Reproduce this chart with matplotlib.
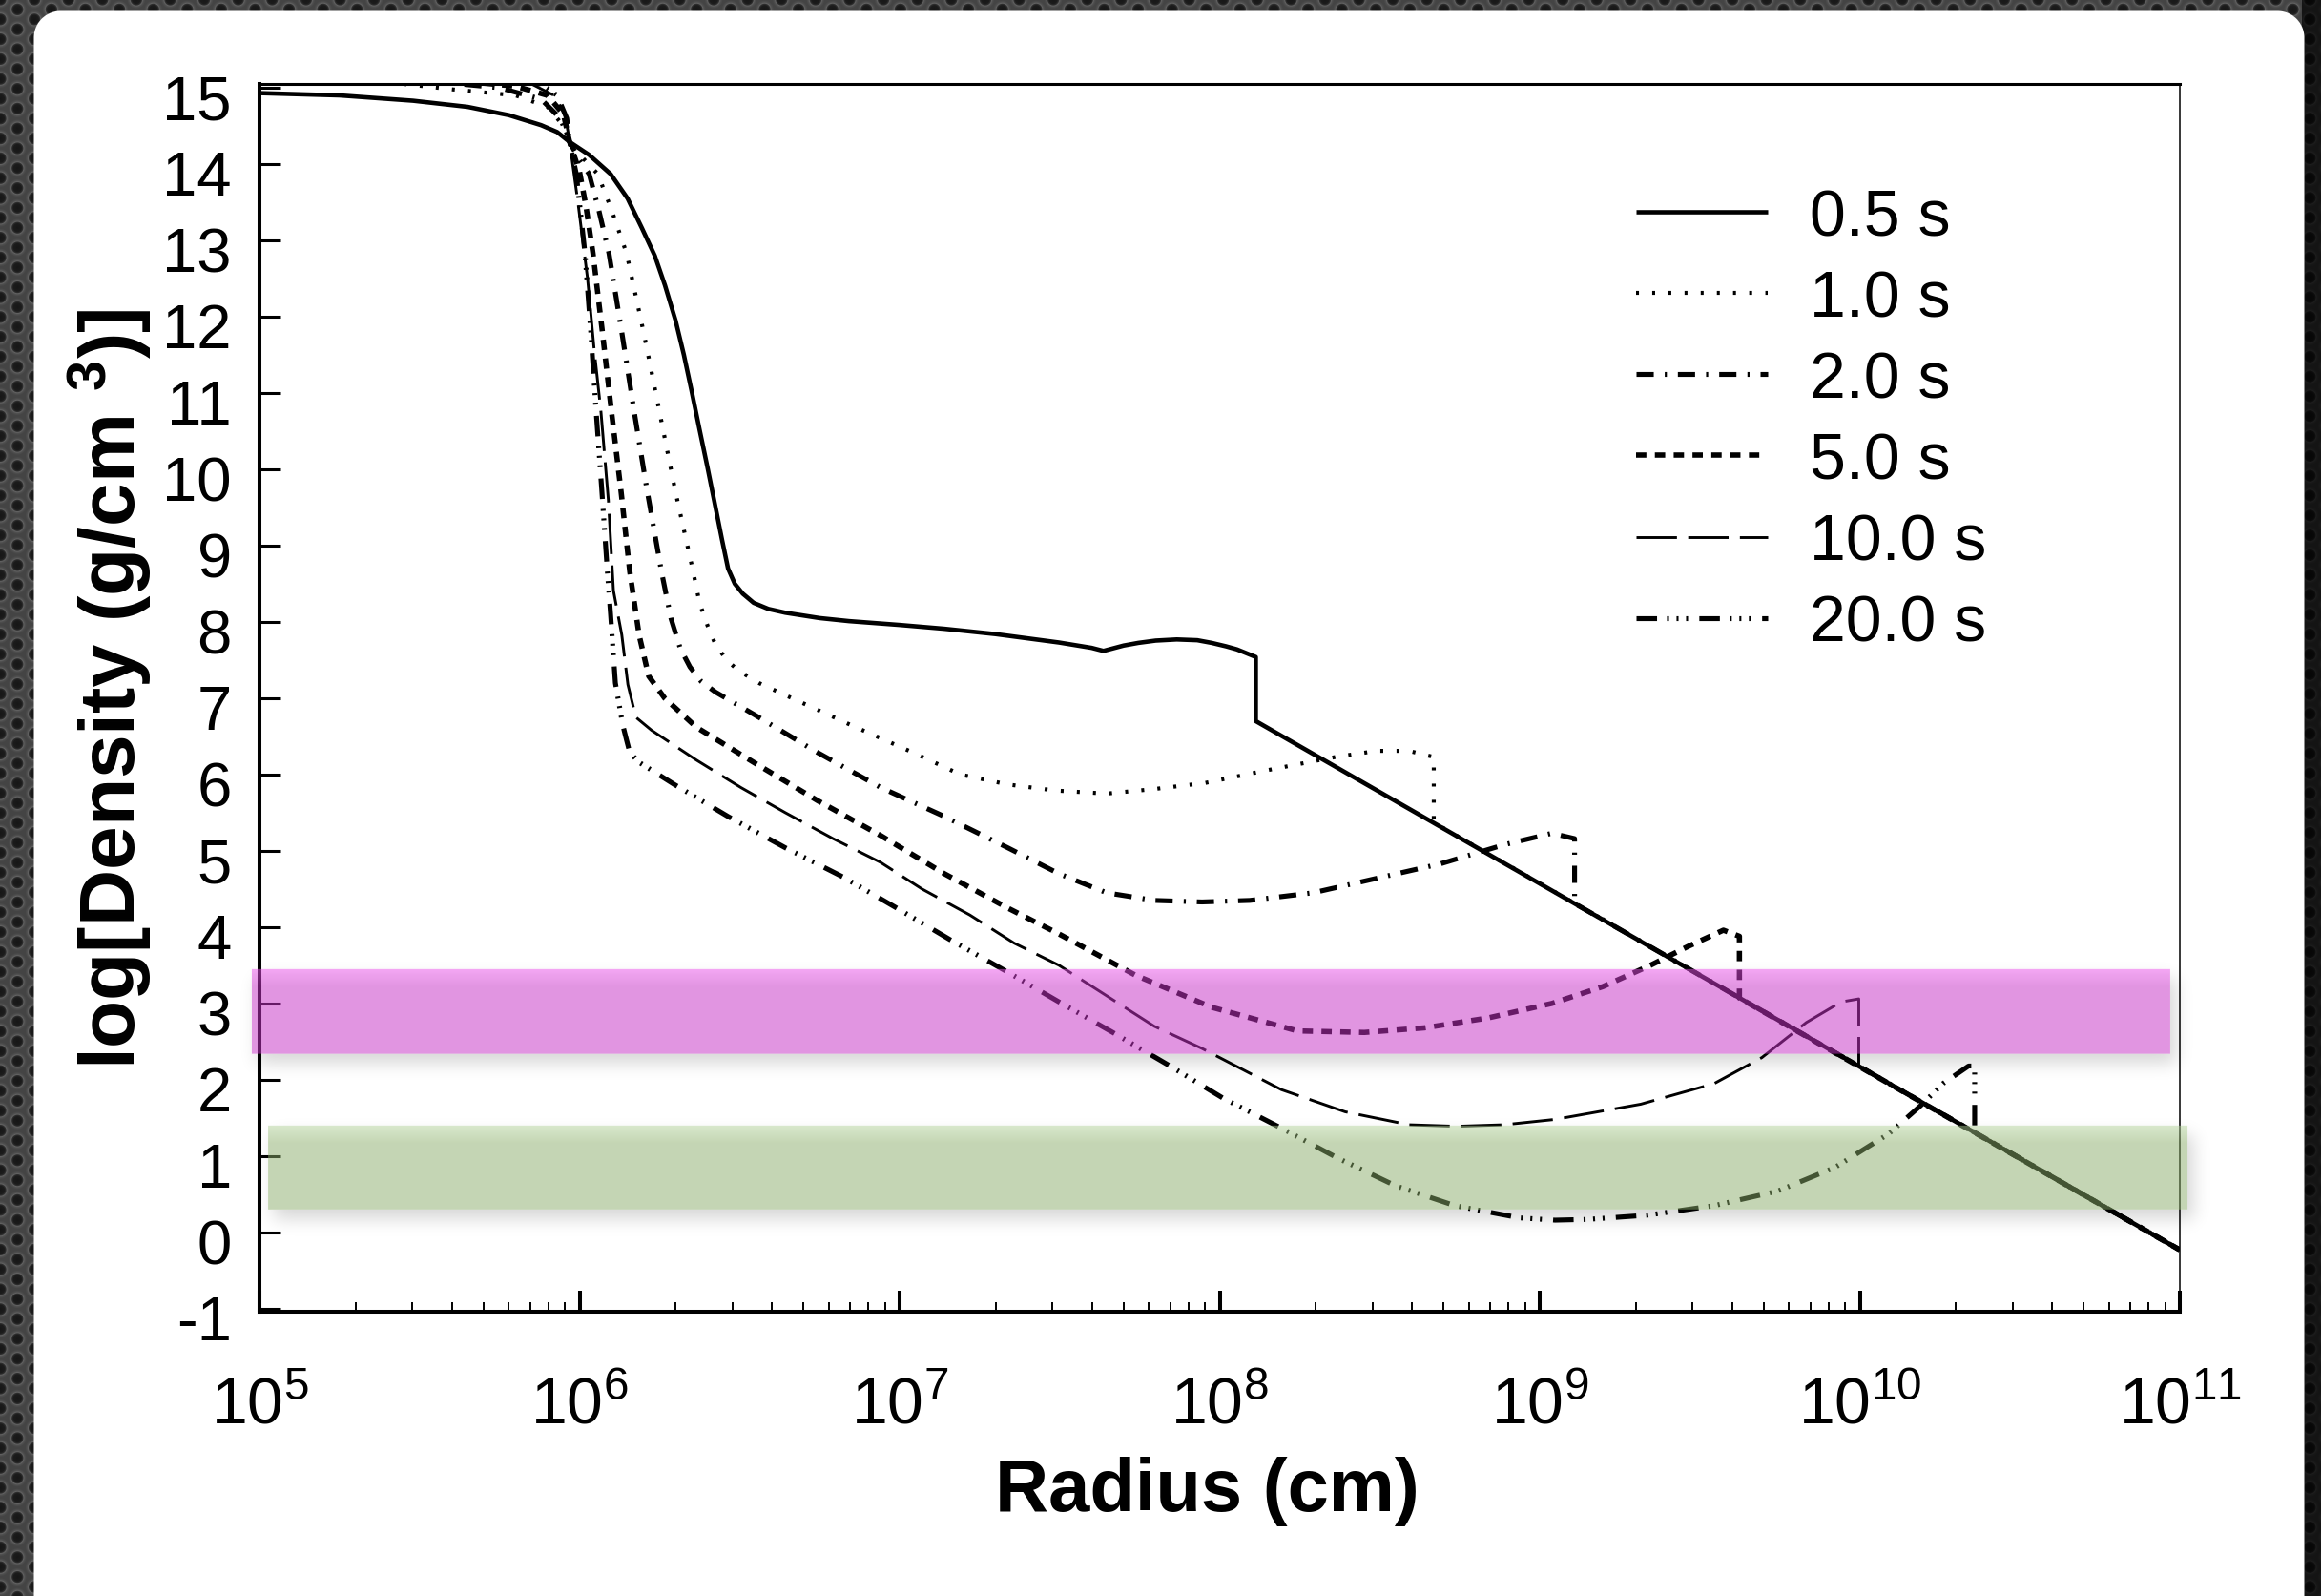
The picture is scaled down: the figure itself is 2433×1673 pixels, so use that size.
import math
import numpy as np
import matplotlib
matplotlib.use("Agg")
import matplotlib.pyplot as plt
from matplotlib.transforms import ScaledTranslation
from matplotlib.ticker import FixedLocator, FuncFormatter, NullFormatter

plt.rcParams['font.family'] = ['Liberation Sans', 'DejaVu Sans']
plt.rcParams['mathtext.fontset'] = 'custom'
plt.rcParams['mathtext.rm'] = 'Liberation Sans'
plt.rcParams['mathtext.it'] = 'Liberation Sans:italic'
plt.rcParams['mathtext.bf'] = 'Liberation Sans:bold'
plt.rcParams['lines.scale_dashes'] = False

# ---------------------------------------------------------------- data
# log10 radius [cm] and log10 density [g/cm^3] for each snapshot
labels = ["0.5 s", "1.0 s", "2.0 s", "5.0 s", "10.0 s", "20.0 s"]

logr_t05 = [5.00, 5.25, 5.48, 5.65, 5.78, 5.88, 5.93, 5.969, 6.03, 6.097, 6.15, 6.195,
            6.235, 6.267, 6.30, 6.326, 6.35, 6.374, 6.40, 6.425, 6.445, 6.464, 6.485,
            6.51, 6.544, 6.59, 6.643, 6.75, 6.842, 7.00, 7.14, 7.30, 7.498, 7.60, 7.637,
            7.70, 7.746, 7.80, 7.866, 7.93, 7.975, 8.02, 8.054, 8.113, 8.113, 11.0]
logd_t05 = [14.93, 14.90, 14.83, 14.75, 14.64, 14.51, 14.42, 14.29, 14.12, 13.87, 13.55, 13.16,
            12.80, 12.41, 11.95, 11.50, 11.03, 10.54, 10.02, 9.50, 9.08, 8.70, 8.50,
            8.37, 8.25, 8.17, 8.12, 8.05, 8.01, 7.96, 7.91, 7.84, 7.73, 7.66, 7.62,
            7.69, 7.725, 7.755, 7.77, 7.76, 7.725, 7.68, 7.64, 7.54, 6.70, -0.23]

logr_t1 = [5.00, 5.45, 5.60, 5.80, 5.90, 5.95, 5.969, 6.01, 6.057, 6.10, 6.147, 6.20, 6.25,
           6.30, 6.355, 6.375, 6.40, 6.425, 6.46, 6.494, 6.56, 6.643, 6.842, 7.041, 7.19,
           7.338, 7.487, 7.647, 7.796, 7.955, 8.153, 8.362, 8.491, 8.591, 8.669, 8.669, 11.0]
logd_t1 = [15.30, 15.05, 14.98, 14.90, 14.75, 14.50, 14.29, 14.08, 13.87, 13.40, 12.83, 11.80, 10.75,
           9.70, 8.66, 8.25, 7.95, 7.70, 7.50, 7.37, 7.20, 7.04, 6.66, 6.29, 6.00,
           5.87, 5.79, 5.75, 5.81, 5.89, 6.06, 6.23, 6.31, 6.31, 6.23, 5.37, -0.23]

logr_t2 = [5.00, 5.55, 5.75, 5.88, 5.94, 5.969, 6.00, 6.03, 6.06, 6.092, 6.13, 6.171, 6.21,
           6.256, 6.286, 6.315, 6.345, 6.38, 6.425, 6.544, 6.743, 6.941, 7.14, 7.338, 7.498,
           7.647, 7.796, 7.945, 8.094, 8.292, 8.491, 8.69, 8.889, 9.038, 9.109, 9.109, 11.0]
logd_t2 = [15.40, 15.08, 15.00, 14.85, 14.60, 14.29, 14.05, 13.87, 13.40, 12.83, 11.85, 10.75, 9.75,
           8.66, 8.04, 7.65, 7.41, 7.22, 7.08, 6.79, 6.29, 5.83, 5.45, 5.04, 4.70,
           4.45, 4.35, 4.33, 4.35, 4.45, 4.64, 4.83, 5.08, 5.23, 5.16, 4.31, -0.23]

logr_t5 = [5.00, 5.60, 5.80, 5.90, 5.95, 5.969, 6.00, 6.02, 6.042, 6.07, 6.10, 6.13, 6.157,
           6.186, 6.216, 6.266, 6.365, 6.544, 6.743, 6.941, 7.14, 7.338, 7.498, 7.737, 7.975,
           8.243, 8.452, 8.64, 8.839, 9.038, 9.197, 9.346, 9.465, 9.574, 9.624, 9.624, 11.0]
logd_t5 = [15.45, 15.10, 15.02, 14.90, 14.65, 14.29, 13.90, 13.45, 12.83, 11.85, 10.75, 9.70, 8.66,
           7.83, 7.29, 7.00, 6.62, 6.16, 5.66, 5.20, 4.70, 4.25, 3.91, 3.37, 2.95,
           2.64, 2.62, 2.68, 2.81, 3.00, 3.22, 3.50, 3.75, 3.96, 3.88, 3.07, -0.23]

logr_t10 = [5.00, 5.65, 5.85, 5.92, 5.955, 5.969, 5.995, 6.025, 6.045, 6.067, 6.09, 6.106, 6.132,
            6.151, 6.176, 6.225, 6.365, 6.504, 6.643, 6.792, 6.94, 7.07, 7.219, 7.358, 7.498,
            7.796, 7.945, 8.193, 8.392, 8.591, 8.74, 8.889, 9.048, 9.316, 9.545, 9.694, 9.833,
            9.942, 9.997, 9.997, 11.0]
logd_t10 = [15.50, 15.12, 15.05, 14.90, 14.65, 14.29, 13.50, 12.50, 11.60, 10.75, 9.60, 8.41, 7.83,
            7.18, 6.75, 6.58, 6.19, 5.83, 5.50, 5.16, 4.85, 4.50, 4.16, 3.79, 3.50,
            2.70, 2.41, 1.87, 1.58, 1.41, 1.39, 1.41, 1.48, 1.68, 1.95, 2.29, 2.75,
            3.02, 3.06, 2.18, -0.23]

logr_t20 = [5.00, 5.70, 5.88, 5.93, 5.96, 5.969, 5.99, 6.017, 6.035, 6.052, 6.07, 6.087, 6.097,
            6.112, 6.135, 6.147, 6.157, 6.186, 6.296, 6.464, 6.643, 6.822, 6.991, 7.16, 7.338,
            7.498, 7.666, 7.845, 8.01, 8.20, 8.368, 8.55, 8.735, 8.937, 9.048, 9.15, 9.336,
            9.545, 9.743, 9.922, 10.09, 10.19, 10.26, 10.34, 10.359, 10.359, 11.0]
logd_t20 = [15.55, 15.15, 15.05, 14.90, 14.60, 14.29, 13.87, 12.83, 11.80, 10.75, 9.70, 8.66, 8.10,
            7.20, 6.65, 6.45, 6.29, 6.16, 5.87, 5.45, 5.04, 4.66, 4.25, 3.83, 3.41,
            3.02, 2.62, 2.18, 1.76, 1.35, 0.975, 0.61, 0.35, 0.19, 0.16, 0.17, 0.225,
            0.35, 0.54, 0.85, 1.29, 1.66, 1.95, 2.18, 2.18, 1.31, -0.23]

series_logr = [logr_t05, logr_t1, logr_t2, logr_t5, logr_t10, logr_t20]
series_logd = [logd_t05, logd_t1, logd_t2, logd_t5, logd_t10, logd_t20]

# highlighted density ranges (log density) and their horizontal reach (log radius)
pink_band_logd = (2.34, 3.45)
pink_band_logr = (4.976, 10.97)
green_band_logd = (0.30, 1.40)
green_band_logr = (5.027, 11.024)

y_ticks = list(range(-1, 16))

# ---------------------------------------------------------------- styles
line_styles = [
    dict(linestyle='-', lw=3.3),
    dict(linestyle=(0, (2.2, 10.0)), lw=3.0),
    dict(linestyle=(0, (13.0, 8.3, 1.6, 8.3)), lw=3.7),
    dict(linestyle=(0, (7.8, 6.4)), lw=4.0),
    dict(linestyle=(0, (30.5, 8.5)), lw=2.1),
    dict(linestyle=(0, (15.5, 7.5, 1.5, 5.7, 1.5, 5.7, 1.5, 8.5)), lw=3.7),
]

W, H = 2433, 1674
DPI = 100
fig = plt.figure(figsize=(W / DPI, H / DPI), dpi=DPI)
fig.patch.set_facecolor('white')

# ---------------------------------------------------------------- perforated backdrop + white panel
yy, xx = np.mgrid[0:H, 0:W].astype(np.float32)
pitch_x, pitch_y = 17.8, 20.8
col = np.round(xx / pitch_x)
dist = np.full((H, W), 1e9, dtype=np.float32)
for dc in (-1, 0, 1):
    cc = col + dc
    off = (cc % 2) * pitch_y / 2
    cy = np.round((yy - off) / pitch_y) * pitch_y + off
    cx = cc * pitch_x
    dist = np.minimum(dist, np.hypot(xx - cx, yy - cy))
shade = np.interp(dist, [0, 4.2, 5.6, 6.6, 7.8, 9.5], [0.09, 0.11, 0.18, 0.38, 0.31, 0.27])
shade = np.where(xx > 2412, shade * 0.3, shade)

# rounded panel
px0, px1, py0, py1, rad = 35.0, 2415.0, 12.0, H + 60.0, 28.0
cxp, cyp = (px0 + px1) / 2, (py0 + py1) / 2
hw, hh = (px1 - px0) / 2, (py1 - py0) / 2
qx = np.maximum(np.abs(xx - cxp) - (hw - rad), 0)
qy = np.maximum(np.abs(yy - cyp) - (hh - rad), 0)
inside = np.clip(rad - np.hypot(qx, qy) + 0.5, 0, 1)
bg = shade * (1 - inside) + inside
bg_rgb = np.dstack([bg, bg, bg]).astype(np.float32)
fig.figimage(bg_rgb, xo=0, yo=0, origin='upper', zorder=-10)

# ---------------------------------------------------------------- axes
ax_left, ax_right, ax_top, ax_bottom = 272, 2285, 89, 1376
ax = fig.add_axes([ax_left / W, 1 - ax_bottom / H, (ax_right - ax_left) / W,
                   (ax_bottom - ax_top) / H])
ax.set_facecolor('none')
ax.set_xscale('log')
ax.set_xlim(1e5, 1e11)
ax.set_ylim(-1.04, 15.05)

lines = []
for lr, ld, lab, st in zip(series_logr, series_logd, labels, line_styles):
    ln, = ax.plot(10 ** np.asarray(lr), ld, color='black', label=lab,
                  dash_capstyle='butt', solid_capstyle='butt', **st)
    lines.append(ln)
lines[0].set_zorder(3)

ax.xaxis.set_major_locator(FixedLocator([10.0 ** k for k in range(5, 12)]))
ax.xaxis.set_minor_locator(FixedLocator([m * 10.0 ** k for k in range(5, 11) for m in range(2, 10)]))
ax.xaxis.set_major_formatter(FuncFormatter(lambda v, p: r'$10^{%d}$' % int(round(np.log10(v)))))
ax.xaxis.set_minor_formatter(NullFormatter())
ax.set_yticks(y_ticks)
ax.set_yticklabels([str(t) for t in y_ticks])

ax.tick_params(axis='both', which='both', direction='in', top=False, right=False)
ax.tick_params(axis='y', which='major', length=15.8, width=2.2, labelsize=47, pad=21)
ax.tick_params(axis='x', which='major', length=15.8, width=2.9, labelsize=49, pad=48)
ax.tick_params(axis='x', which='minor', length=7.2, width=1.4)

for side, w in (('left', 2.9), ('bottom', 2.9), ('top', 2.2), ('right', 1.1)):
    ax.spines[side].set_linewidth(w)
    ax.spines[side].set_color('black')

shift = ScaledTranslation(0, -9 / DPI, fig.dpi_scale_trans)
for t in ax.get_yticklabels():
    t.set_transform(t.get_transform() + shift)

ax.set_xlabel('Radius (cm)', fontsize=56, fontweight='bold')
ax.xaxis.label.set_va('center')
ax.xaxis.set_label_coords((1265 - ax_left) / (ax_right - ax_left),
                          (ax_bottom - 1564) / (ax_bottom - ax_top))
ax.set_ylabel(r'log[Density (g/cm $^{\mathbf{3}}$)]', fontsize=59, fontweight='bold')
ax.yaxis.label.set_va('center')
ax.yaxis.set_label_coords((116 - ax_left) / (ax_right - ax_left),
                          (ax_bottom - 722) / (ax_bottom - ax_top))

ax.legend(handles=lines, loc='upper left', bbox_to_anchor=(1715 / W, 1 - 197 / H),
          bbox_transform=fig.transFigure, frameon=False, fontsize=49,
          handlelength=2.03, handletextpad=0.65, labelspacing=0.31,
          borderpad=0, borderaxespad=0)

# ---------------------------------------------------------------- translucent highlight bands
verf = np.vectorize(math.erf)
rows = np.arange(H, dtype=float) + 0.5
cols = np.arange(W, dtype=float) + 0.5


def soft_interval(coord, a, b, s):
    return 0.5 * (verf((coord - a) / (s * math.sqrt(2))) - verf((coord - b) / (s * math.sqrt(2))))


def hard_interval(coord, a, b):
    return np.clip(np.minimum(coord - a, b - coord) + 0.5, 0, 1)


prem = np.zeros((H, W, 3))
alpha = np.zeros((H, W))


def over(rgb, a):
    global prem, alpha
    prem = rgb * a[..., None] + prem * (1 - a[..., None])
    alpha = a + alpha * (1 - a)


def add_band(logr_span, logd_span, col_main, col_top, a_band):
    (x0, ybot), (x1, ytop) = ax.transData.transform(
        [(10 ** logr_span[0], logd_span[0]), (10 ** logr_span[1], logd_span[1])])
    r0, r1 = H - ytop, H - ybot
    m = hard_interval(rows, r0, r1)[:, None] * hard_interval(cols, x0, x1)[None, :]
    # soft drop shadow, kept outside the band itself
    sh = 0.16 * soft_interval(rows, r0 + 10, r1 + 10, 9)[:, None] * \
        soft_interval(cols, x0 + 6, x1 + 6, 9)[None, :]
    over(np.zeros(3), sh * (1 - m))
    # band with a lighter top edge
    t = np.clip((rows - r0) / 18.0, 0, 1)[:, None]
    rgb = np.asarray(col_top)[None, :] * (1 - t) + np.asarray(col_main)[None, :] * t
    over(rgb[:, None, :], m * a_band)


add_band(pink_band_logr, pink_band_logd, (0.78, 0.20, 0.78), (0.917, 0.33, 0.917), 0.52)
add_band(green_band_logr, green_band_logd, (0.545, 0.678, 0.412), (0.694, 0.82, 0.60), 0.50)

safe = np.where(alpha > 1e-6, alpha, 1)
overlay = np.dstack([prem / safe[..., None], alpha]).astype(np.float32)
overlay = np.clip(overlay, 0, 1)
fig.figimage(overlay, xo=0, yo=0, origin='upper', zorder=5)

fig.savefig('out.png', dpi=DPI)
